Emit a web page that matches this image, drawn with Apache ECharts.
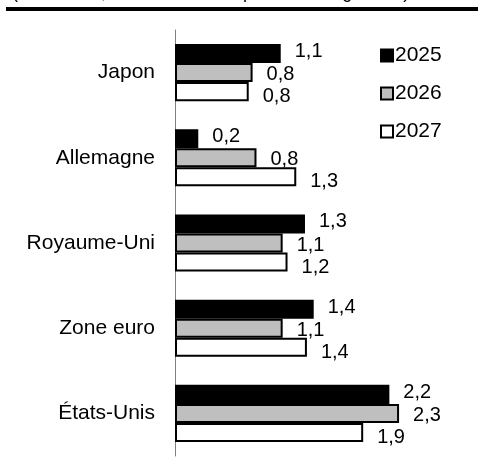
<!DOCTYPE html>
<html><head><meta charset="utf-8">
<script src="https://cdn.jsdelivr.net/npm/echarts@6/dist/echarts.min.js"></script>
<style>html,body{margin:0;padding:0;background:#fff}#c{width:478px;height:459px}</style>
</head><body><div id="c"></div>
<script>
const categories = ['Japon', 'Allemagne', 'Royaume-Uni', 'Zone euro', 'États-Unis'];
const seriesNames = ['2025', '2026', '2027'];
const values2025 = [1.09, 0.24, 1.34, 1.43, 2.21];
const values2026 = [0.80, 0.84, 1.11, 1.11, 2.31];
const values2027 = [0.76, 1.25, 1.16, 1.36, 1.94];
const titleText = '(en volume, variation du PIB prévue à long terme)';

const FONT = "'Liberation Sans', Arial, sans-serif";
const fills = ['#000000', '#bfbfbf', '#ffffff'];
const labelOffsets = [[0, -2], [0, 2], [0, 5]];
const allValues = [values2025, values2026, values2027];

const fmt = p => (Math.round(p.value * 10) / 10).toFixed(1).replace('.', ',');

const chart = echarts.init(document.getElementById('c'), null, {renderer: 'canvas'});
chart.setOption({
  animation: false,
  backgroundColor: '#fff',
  graphic: [
    {type: 'text', left: 12, top: -16, style: {text: titleText, font: '18px ' + FONT, fill: '#000'}},
    {type: 'rect', left: 6, top: 7, shape: {width: 472, height: 4}, style: {fill: '#000'}}
  ],
  legend: {
    orient: 'vertical',
    left: 375,
    top: 40,
    itemWidth: 12,
    itemHeight: 12,
    itemGap: 17,
    icon: 'rect',
    textStyle: {fontFamily: FONT, fontSize: 21, color: '#000', padding: [0, 0, 0, -3]},
    data: seriesNames
  },
  grid: {left: 175, right: 12, top: 30, bottom: 3, containLabel: false},
  xAxis: {
    type: 'value', min: 0, max: 3, show: false
  },
  yAxis: {
    type: 'category',
    inverse: true,
    data: categories,
    axisLine: {show: true, lineStyle: {color: '#808080', width: 1}},
    axisTick: {show: false},
    axisLabel: {fontFamily: FONT, fontSize: 21, color: '#000', margin: 20}
  },
  series: seriesNames.map((name, i) => ({
    name: name,
    type: 'bar',
    data: allValues[i],
    barGap: '0%',
    barCategoryGap: '33%',
    itemStyle: {color: fills[i], borderColor: '#000', borderWidth: 2},
    label: {
      show: true, position: 'right', distance: 14, offset: labelOffsets[i],
      formatter: fmt, fontFamily: FONT, fontSize: 20, color: '#000'
    }
  }))
});
</script></body></html>
